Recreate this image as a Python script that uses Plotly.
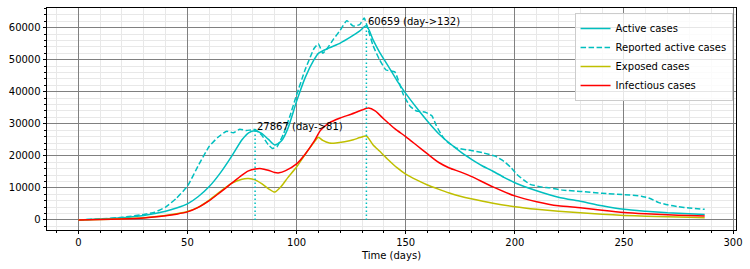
import plotly.graph_objects as go

# ---------------- data ----------------
active_days = [0, 10, 20, 30, 40, 45, 50, 55, 60, 65, 70, 75, 78, 81, 84, 87, 90, 93, 96, 100,
               104, 108, 110, 115, 120, 125, 129, 132, 135, 138, 142, 146, 150, 155, 160, 165,
               170, 175, 180, 185, 190, 195, 200, 210, 220, 230, 240, 250, 260, 270, 280, 287]
active_vals = [0, 300, 700, 1400, 2700, 3700, 5000, 7300, 10400, 14600, 19600, 25000, 27200, 27867,
               27000, 25200, 23400, 24600, 28500, 37000, 44500, 50000, 52000, 53700, 55200, 57200,
               59000, 60659, 56300, 52400, 48000, 43500, 39500, 35000, 30800, 27000, 24000, 21300,
               19000, 16900, 15200, 13300, 11600, 9100, 7100, 5800, 4400, 3300, 2700, 2200, 1900, 1700]

reported_days = [0, 10, 20, 30, 35, 40, 45, 50, 55, 60, 64, 68, 71, 74, 77, 81, 84, 87, 89, 91,
                 94, 97, 100, 104, 108, 110, 112, 114, 117, 120, 123, 126, 129, 131, 133, 135,
                 138, 141, 145, 149, 152, 155, 159, 162, 164, 166, 168, 173, 180, 185, 191, 195,
                 198, 201, 204, 207, 212, 216, 222, 230, 240, 250, 258, 262, 266, 270, 275, 280, 287]
reported_vals = [0, 300, 800, 1700, 2400, 4000, 6800, 10500, 17000, 23000, 25800, 27700, 27200,
                 28300, 27900, 28200, 26500, 23500, 22300, 22800, 26800, 32500, 39000, 47000, 53500,
                 55000, 52000, 53500, 56500, 59200, 62200, 60500, 61000, 63000, 59000, 54500, 50000,
                 46800, 46200, 39000, 35500, 34000, 33600, 32500, 29500, 27000, 25000, 22500, 21700,
                 21000, 19900, 18300, 16500, 14200, 12500, 11100, 10300, 10000, 9300, 8900, 8300,
                 7900, 7400, 6700, 5400, 4700, 4100, 3700, 3300]

exposed_days = [0, 10, 20, 30, 40, 45, 50, 55, 60, 65, 70, 75, 78, 81, 84, 87, 90, 93, 96, 100,
                104, 108, 110, 112, 115, 118, 122, 126, 129, 132, 135, 138, 142, 146, 150, 155,
                160, 165, 170, 175, 180, 190, 200, 210, 220, 230, 240, 250, 260, 270, 280, 287]
exposed_vals = [0, 150, 350, 700, 1400, 1900, 2600, 4000, 6200, 8800, 11300, 12700, 12900, 12500,
                11300, 9800, 8700, 10500, 13200, 16500, 20500, 24200, 25800, 24800, 24000, 24000,
                24400, 25000, 25700, 26200, 23500, 21500, 18800, 16300, 14300, 12500, 10900, 9600,
                8400, 7400, 6600, 5200, 4100, 3300, 2700, 2200, 1800, 1400, 1150, 950, 800, 700]

infectious_days = [0, 10, 20, 30, 40, 45, 50, 55, 60, 65, 70, 75, 78, 81, 84, 87, 90, 92, 95, 100,
                   104, 108, 111, 115, 120, 125, 130, 133, 136, 140, 145, 150, 155, 160, 165, 170,
                   175, 180, 190, 200, 210, 220, 230, 240, 250, 260, 270, 280, 287]
infectious_vals = [0, 100, 300, 600, 1300, 1800, 2500, 3900, 6000, 8600, 11300, 14000, 15300,
                   15900, 16000, 15500, 14800, 14700, 15400, 17500, 20600, 24500, 28000, 30300,
                   31800, 33000, 34300, 34900, 34000, 31500, 28500, 26000, 23300, 20600, 18000,
                   16200, 15000, 13600, 10300, 7500, 5700, 4400, 3800, 3000, 2300, 1900, 1600,
                   1350, 1200]

peak_days = [81, 132]
peak_values = [27867, 60659]

x_ticks = [0, 50, 100, 150, 200, 250, 300]
y_ticks = [0, 10000, 20000, 30000, 40000, 50000, 60000]

# ---------------- styling ----------------
CYAN = "#00bfbf"
YELLOW = "#bfbf00"
RED = "#ff0000"
FONT = "DejaVu Sans"

fig = go.Figure()
fig.add_trace(go.Scatter(x=active_days, y=active_vals, mode="lines", name="Active cases",
                         line=dict(color=CYAN, width=1.5, shape="spline", smoothing=0.6)))
fig.add_trace(go.Scatter(x=reported_days, y=reported_vals, mode="lines", name="Reported active cases",
                         line=dict(color=CYAN, width=1.5, dash="5.5px,2.5px", shape="spline", smoothing=0.4)))
fig.add_trace(go.Scatter(x=exposed_days, y=exposed_vals, mode="lines", name="Exposed cases",
                         line=dict(color=YELLOW, width=1.5, shape="spline", smoothing=0.6)))
fig.add_trace(go.Scatter(x=infectious_days, y=infectious_vals, mode="lines", name="Infectious cases",
                         line=dict(color=RED, width=1.5, shape="spline", smoothing=0.6)))

for d, v in zip(peak_days, peak_values):
    fig.add_trace(go.Scatter(x=[d, d], y=[0, v], mode="lines", showlegend=False, hoverinfo="skip",
                             line=dict(color=CYAN, width=1.5, dash="1.5px,2.5px")))
    fig.add_annotation(x=d, y=v, text=f"{v} (day->{d})", showarrow=False,
                       xanchor="left", yanchor="bottom", xshift=0, yshift=-3,
                       font=dict(family=FONT, size=10, color="black"))

axis_common = dict(showline=True, linecolor="black", linewidth=0.8, mirror=True,
                   ticks="outside", ticklen=3.5, tickwidth=0.8, tickcolor="black",
                   showgrid=True, gridcolor="#808080", gridwidth=1, zeroline=False,
                   tickfont=dict(family=FONT, size=10, color="black"))

fig.update_xaxes(range=[-14.35, 301.35], tickvals=x_ticks,
                 title=dict(text="Time (days)", font=dict(family=FONT, size=10, color="black"), standoff=4),
                 minor=dict(dtick=10, tick0=0, showgrid=True, gridcolor="#e8e8e8", gridwidth=0.8,
                            ticks="outside", ticklen=2, tickcolor="black"),
                 **axis_common)
fig.update_yaxes(range=[-3150, 66150], tickvals=y_ticks, tickformat="d",
                 minor=dict(dtick=2000, tick0=0, showgrid=True, gridcolor="#e8e8e8", gridwidth=0.8,
                            ticks="outside", ticklen=2, tickcolor="black"),
                 **axis_common)

fig.update_layout(
    width=750, height=269,
    margin=dict(l=47, r=12, t=7, b=39),
    paper_bgcolor="white", plot_bgcolor="white",
    font=dict(family=FONT, size=10, color="black"),
    showlegend=True,
    legend=dict(x=0.995, y=0.978, xanchor="right", yanchor="top",
                bgcolor="rgba(255,255,255,0.8)", bordercolor="#cccccc", borderwidth=1,
                font=dict(family=FONT, size=10, color="black"),
                tracegroupgap=0, itemwidth=30),
)

fig.write_html("out.html", config={"displayModeBar": False},
               post_script="document.body.style.margin='0';")
